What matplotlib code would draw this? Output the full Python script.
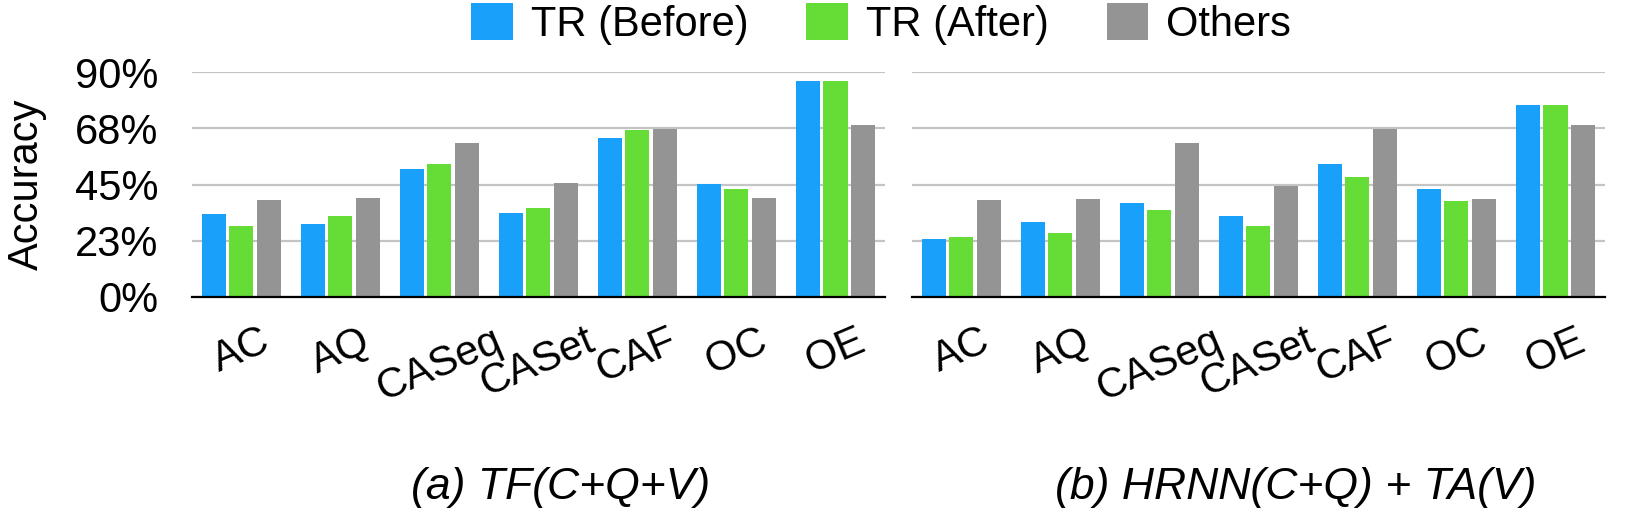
import matplotlib
matplotlib.use("Agg")
import matplotlib.pyplot as plt
import numpy as np

plt.rcParams['font.family'] = ['Liberation Sans', 'DejaVu Sans']

categories = ["AC", "AQ", "CASeq", "CASet", "CAF", "OC", "OE"]
series_names = ["TR (Before)", "TR (After)", "Others"]

# (a) TF(C+Q+V)
tf_before = [33.2, 29.2, 51.3, 33.6, 63.7, 45.3, 86.4]
tf_after = [28.4, 32.3, 53.3, 35.7, 66.9, 43.3, 86.4]
tf_others = [38.7, 39.5, 61.6, 45.7, 67.3, 39.7, 68.8]

# (b) HRNN(C+Q) + TA(V)
hr_before = [23.1, 30.0, 37.7, 32.4, 53.3, 43.1, 77.0]
hr_after = [23.9, 25.6, 34.7, 28.4, 48.1, 38.5, 77.0]
hr_others = [38.9, 39.3, 61.6, 44.5, 67.2, 39.3, 68.8]

ytick_values = [0, 22.5, 45, 67.5, 90]
ytick_labels = ["0%", "23%", "45%", "68%", "90%"]

titles = ["(a) TF(C+Q+V)", "(b) HRNN(C+Q) + TA(V)"]

colors = ["#18a0fb", "#66dd36", "#949494"]

W, H = 1625, 514
fig = plt.figure(figsize=(W / 100, H / 100), dpi=100)

def px_axes(x0, x1, y0, y1):
    return fig.add_axes([x0 / W, 1 - y1 / H, (x1 - x0) / W, (y1 - y0) / H])

ax1 = px_axes(191.7, 885, 72.3, 297)
ax2 = px_axes(911.7, 1605, 72.3, 297)

x = np.arange(len(categories))
bw = 0.243
off = 0.278

panels = [(ax1, [tf_before, tf_after, tf_others]), (ax2, [hr_before, hr_after, hr_others])]
handles = None
for i, (ax, data) in enumerate(panels):
    hs = []
    for j, vals in enumerate(data):
        h = ax.bar(x + (j - 1) * off, vals, width=bw, color=colors[j],
                   edgecolor='none', label=series_names[j], zorder=3)
        hs.append(h)
    if handles is None:
        handles = hs
    ax.set_xlim(-0.5, len(categories) - 0.5)
    ax.set_ylim(0, 90)
    ax.set_yticks(ytick_values)
    ax.yaxis.grid(True, color='#c4c4c4', linewidth=1.6, zorder=0)
    ax.set_axisbelow(True)
    for s in ['top', 'right', 'left']:
        ax.spines[s].set_visible(False)
    ax.spines['bottom'].set_color('black')
    ax.spines['bottom'].set_linewidth(1.6)
    ax.spines['bottom'].set_zorder(4)
    ax.set_xticks(x)
    ax.set_xticklabels(categories, rotation=23, ha='center', fontsize=30)
    ax.tick_params(axis='x', length=0, pad=17)
    ax.tick_params(axis='y', length=0, pad=24)
    if i == 0:
        ax.set_yticklabels(ytick_labels, fontsize=30)
        ax.set_ylabel("Accuracy", fontsize=30)
        ax.yaxis.set_label_coords((47 - 191.7) / 693, 0.5)
    else:
        ax.set_yticklabels([])

fig.text(561 / W, 1 - 488 / H, titles[0], fontsize=32, style='italic',
         ha='center', va='center')
fig.text(1296 / W, 1 - 488 / H, titles[1], fontsize=32, style='italic',
         ha='center', va='center')

fig.legend(handles, series_names, loc='center', ncol=3, frameon=False,
           bbox_to_anchor=(881 / W, 1 - 24 / H), fontsize=30,
           handlelength=1.0, handleheight=0.96, handletextpad=0.43,
           columnspacing=1.39, borderpad=0.0)

fig.savefig("out.png", dpi=100)
